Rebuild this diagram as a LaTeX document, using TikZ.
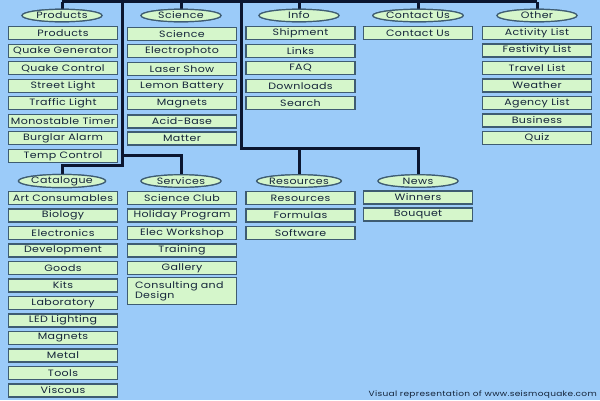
\documentclass[tikz,border=0pt]{standalone}
\usepackage{fontspec}
\setmainfont{Poppins}
\newfontfamily\wide[FakeStretch=1.2, LetterSpace=4]{Poppins}
\usetikzlibrary{shapes.geometric}
\definecolor{bg}{HTML}{9BCBF9}
\definecolor{boxfill}{HTML}{D5F6CB}
\definecolor{boxline}{HTML}{3E5C72}
\definecolor{busc}{HTML}{0B1630}
\definecolor{txt}{HTML}{14243A}
\begin{document}
\begin{tikzpicture}[x=1pt,y=-1pt,
  box/.style={draw=boxline, fill=boxfill, line width=1.3pt, minimum width=109pt, minimum height=13pt, inner sep=0pt, font=\wide\fontsize{9.2}{10}\selectfont, text=txt},
  cat/.style={ellipse, draw=boxline, fill=boxfill, line width=1.2pt, minimum width=80pt, minimum height=12.5pt, inner sep=0pt, font=\wide\fontsize{9.2}{10}\selectfont, text=txt},
  busline/.style={draw=busc, line width=3pt},
  wmark/.style={font=\wide\fontsize{7.5}{8}\selectfont, text=txt, inner sep=0pt}]
\fill[bg] (0,0) rectangle (600,400);
\useasboundingbox (0,0) rectangle (600,400);
% bus coordinates
\coordinate (topL) at (62,1.8);
\coordinate (topR) at (537,1.8);
\coordinate (a1) at (122.5,1.8);
\coordinate (a2) at (122.5,165);
\coordinate (a3) at (122.5,155);
\coordinate (b1) at (241,1.8);
\coordinate (b2) at (241,148.5);
% category ellipses top
\node[cat] (ePro) at (62,15.5) {Products};
\node[cat] (eSci) at (181,15.5) {Science};
\node[cat] (eInf) at (299,15.5) {Info};
\node[cat] (eCon) at (418,15.5) {Contact Us};
\node[cat] (eOth) at (537,15.5) {Other};
% category ellipses bottom
\node[cat] (eCat) at (62,181) {Catalogue};
\node[cat] (eSer) at (181,181) {Services};
\node[cat] (eRes) at (299,181) {Resources};
\node[cat] (eNew) at (418,181) {News};
% connectors
\draw[busline] (topL) -- (topR);
\draw[busline] (ePro.north) -- (ePro.north |- topL);
\draw[busline] (eSci.north) -- (eSci.north |- topL);
\draw[busline] (eInf.north) -- (eInf.north |- topL);
\draw[busline] (eCon.north) -- (eCon.north |- topL);
\draw[busline] (eOth.north) -- (eOth.north |- topL);
\draw[busline] (a1) -- (a2) -| (eCat.north);
\draw[busline] (a3) -| (eSer.north);
\draw[busline] (b1) -- (b2) -| (eNew.north);
\draw[busline] (eRes.north) -- (eRes.north |- b2);
% redraw ellipses over line ends
\node[cat] at (ePro) {Products};
\node[cat] at (eSci) {Science};
\node[cat] at (eInf) {Info};
\node[cat] at (eCon) {Contact Us};
\node[cat] at (eOth) {Other};
\node[cat] at (eCat) {Catalogue};
\node[cat] at (eSer) {Services};
\node[cat] at (eRes) {Resources};
\node[cat] at (eNew) {News};
% Products column
\node[box] (p1) at (63,33.3) {Products};
\node[box] (p2) at (63,50.8) {Quake Generator};
\node[box] (p3) at (63,68.3) {Quake Control};
\node[box] (p4) at (63,85.8) {Street Light};
\node[box] (p5) at (63,103.3) {Traffic Light};
\node[box] (p6) at (63,120.8) {Monostable Timer};
\node[box] (p7) at (63,138.3) {Burglar Alarm};
\node[box] (p8) at (63,155.8) {Temp Control};
% Science column
\node[box] (s1) at (182,33.8) {Science};
\node[box] (s2) at (182,51.3) {Electrophoto};
\node[box] (s3) at (182,68.8) {Laser Show};
\node[box] (s4) at (182,86.3) {Lemon Battery};
\node[box] (s5) at (182,103.3) {Magnets};
\node[box] (s6) at (182,121.5) {Acid-Base};
\node[box] (s7) at (182,138.5) {Matter};
% Info column
\node[box] (i1) at (300.5,33.3) {Shipment};
\node[box] (i2) at (300.5,50.8) {Links};
\node[box] (i3) at (300.5,68.3) {FAQ};
\node[box] (i4) at (300.5,85.8) {Downloads};
\node[box] (i5) at (300.5,103.3) {Search};
% Contact column
\node[box] (c1) at (418,33.3) {Contact Us};
% Other column
\node[box] (o1) at (537,33) {Activity List};
\node[box] (o2) at (537,50.5) {Festivity List};
\node[box] (o3) at (537,68) {Travel List};
\node[box] (o4) at (537,85.5) {Weather};
\node[box] (o5) at (537,103) {Agency List};
\node[box] (o6) at (537,120.5) {Business};
\node[box] (o7) at (537,138) {Quiz};
% Catalogue column
\node[box] (k1) at (63,198) {Art Consumables};
\node[box] (k2) at (63,215.5) {Biology};
\node[box] (k3) at (63,233) {Electronics};
\node[box] (k4) at (63,250.5) {Development};
\node[box] (k5) at (63,268) {Goods};
\node[box] (k6) at (63,285.5) {Kits};
\node[box] (k7) at (63,303) {Laboratory};
\node[box] (k8) at (63,320.5) {LED Lighting};
\node[box] (k9) at (63,338) {Magnets};
\node[box] (k10) at (63,355.5) {Metal};
\node[box] (k11) at (63,373) {Tools};
\node[box] (k12) at (63,390.5) {Viscous};
% Services column
\node[box] (v1) at (182,198) {Science Club};
\node[box] (v2) at (182,215.5) {Holiday Program};
\node[box] (v3) at (182,233) {Elec Workshop};
\node[box] (v4) at (182,250.5) {Training};
\node[box] (v5) at (182,268) {Gallery};
\node[box, minimum height=27pt, text width=94pt, align=left] (v6) at (182,291) {Consulting and\\Design};
% Resources column
\node[box] (r1) at (300.5,198) {Resources};
\node[box] (r2) at (300.5,215.5) {Formulas};
\node[box] (r3) at (300.5,233) {Software};
% News column
\node[box] (n1) at (418,197.5) {Winners};
\node[box] (n2) at (418,214.5) {Bouquet};
% watermark
\node[wmark, anchor=east] (wm) at (597,395) {Visual representation of www.seismoquake.com};
\end{tikzpicture}
\end{document}
